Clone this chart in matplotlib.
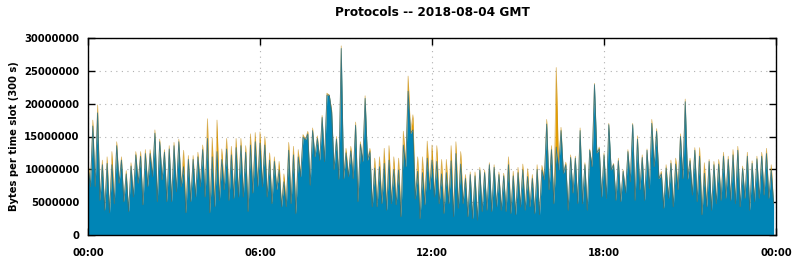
import numpy as np
import matplotlib.pyplot as plt

# values in millions of bytes per 5-minute slot; even slots are peaks, odd slots troughs
peak_total = [11.3, 17.5, 19.8, 11.4, 11.9, 12.7, 14.2, 11.9, 9.8, 11.0, 12.7, 12.7,
              13.0, 13.0, 16.0, 14.6, 13.0, 13.6, 14.1, 14.6, 12.9, 12.1, 12.1, 12.6,
              13.7, 17.7, 14.8, 17.5, 13.1, 14.7, 13.5, 14.7, 14.7, 13.6, 15.4, 15.6,
              15.7, 15.0, 12.5, 11.9, 11.2, 9.3, 14.1, 13.5, 13.0, 15.3, 15.8, 16.3,
              15.1, 18.2, 21.6, 19.0, 15.0, 28.8, 13.2, 13.5, 17.2, 14.2, 21.2, 13.2,
              11.7, 11.9, 13.2, 13.6, 11.9, 11.7, 15.8, 24.2, 18.3, 11.9, 11.9, 14.3,
              13.7, 13.6, 11.5, 11.5, 13.6, 14.2, 12.7, 9.2, 9.6, 9.6, 10.3, 9.9,
              11.0, 10.7, 9.6, 9.4, 11.9, 9.7, 10.3, 10.8, 10.1, 9.2, 10.7, 10.6,
              17.6, 13.6, 25.5, 16.4, 11.1, 12.2, 12.0, 16.3, 11.0, 13.1, 23.1, 13.4,
              12.5, 17.0, 10.9, 11.7, 9.9, 13.0, 17.0, 15.1, 12.2, 13.1, 17.6, 16.2,
              9.7, 10.7, 11.4, 11.7, 15.4, 20.7, 11.7, 13.3, 13.3, 11.0, 11.5, 11.2,
              11.5, 12.6, 12.0, 13.0, 13.5, 10.5, 12.6, 11.3, 12.0, 12.6, 13.2, 10.7]

peak_blue = [10.4, 16.6, 18.6, 10.7, 10.9, 10.7, 13.6, 11.4, 9.3, 10.5, 12.2, 12.0,
             12.4, 12.4, 15.5, 14.2, 12.6, 13.1, 13.6, 14.2, 10.4, 11.5, 11.5, 11.9,
             13.0, 14.7, 11.9, 12.7, 11.5, 13.1, 12.2, 13.3, 13.6, 12.6, 13.7, 14.2,
             14.0, 13.7, 11.4, 11.2, 9.9, 8.1, 12.9, 12.2, 11.9, 14.9, 15.4, 15.9,
             14.7, 17.9, 21.3, 18.7, 14.6, 28.4, 12.5, 12.8, 16.7, 13.8, 20.8, 12.7,
             10.2, 10.4, 10.9, 11.4, 10.0, 9.9, 13.7, 21.9, 16.0, 9.7, 9.5, 11.7,
             11.4, 11.2, 9.3, 9.5, 11.3, 12.4, 10.8, 8.6, 9.2, 9.0, 9.9, 9.5,
             10.7, 10.3, 9.2, 9.0, 10.7, 9.0, 9.5, 9.9, 8.9, 8.6, 10.0, 9.9,
             16.9, 13.0, 13.4, 15.9, 10.7, 11.8, 11.7, 15.9, 10.7, 12.9, 22.9, 13.1,
             12.2, 16.8, 10.7, 11.3, 9.7, 12.7, 16.8, 14.6, 11.8, 12.9, 17.0, 15.8,
             9.3, 10.2, 10.9, 10.8, 15.0, 20.3, 11.3, 12.9, 12.0, 9.4, 11.2, 10.7,
             10.8, 12.0, 11.5, 12.2, 12.9, 10.1, 12.0, 10.9, 11.6, 12.0, 12.4, 9.9]

trough_total = [7.4, 7.4, 5.3, 3.8, 3.4, 4.8, 7.9, 5.1, 3.6, 5.8, 7.9, 4.6,
                7.4, 8.9, 5.1, 8.4, 5.1, 5.1, 6.6, 7.4, 3.4, 5.1, 5.8, 7.4,
                5.8, 3.4, 4.3, 5.3, 6.9, 5.3, 5.6, 5.8, 5.8, 3.6, 6.4, 7.4,
                7.4, 5.8, 4.8, 6.9, 4.3, 4.3, 4.8, 3.3, 8.9, 14.5, 7.6, 11.9,
                11.4, 11.2, 21.3, 10.0, 8.5, 8.6, 8.9, 8.6, 5.1, 11.2, 11.4, 4.3,
                4.3, 4.8, 3.8, 4.8, 4.6, 2.8, 10.4, 15.5, 5.5, 2.5, 4.6, 6.9,
                5.8, 4.8, 3.3, 4.8, 2.8, 4.1, 4.8, 2.8, 2.5, 2.3, 3.6, 3.8,
                3.6, 4.3, 3.8, 3.6, 3.3, 3.1, 4.3, 3.8, 4.3, 3.3, 3.1, 8.4,
                6.9, 4.8, 9.9, 9.4, 3.8, 6.4, 4.8, 4.8, 3.8, 10.4, 12.5, 5.8,
                5.6, 9.9, 5.3, 5.1, 6.4, 8.1, 5.3, 6.9, 5.3, 7.1, 10.4, 8.6,
                4.1, 5.6, 4.3, 6.9, 8.6, 8.5, 6.1, 5.1, 3.1, 4.3, 3.8, 4.8,
                5.3, 5.6, 5.3, 4.8, 4.3, 5.6, 3.8, 5.1, 5.6, 6.1, 5.6, 4.8]

tick_hours = [0, 6, 12, 18, 24]
tick_labels = ['00:00', '06:00', '12:00', '18:00', '00:00']

n = 2 * len(peak_total)
total = np.empty(n)
blue = np.empty(n)
total[0::2] = peak_total
total[1::2] = trough_total
blue[0::2] = peak_blue
blue[1::2] = trough_total
total *= 1e6
blue *= 1e6
hours = np.arange(n) * 5 / 60.0

plt.rcParams['font.family'] = 'DejaVu Sans'
plt.rcParams['font.weight'] = 'bold'

fig = plt.figure(figsize=(7.94, 2.6), dpi=100)
ax = fig.add_axes([88 / 794, 25 / 260, 688 / 794, 197 / 260])

c_blue = '#0085b6'
c_orange = '#e69f00'
ax.fill_between(hours, 0, blue, color=c_blue, lw=0, zorder=2)
ax.fill_between(hours, blue, total, color=c_orange, lw=0, zorder=2)
ax.plot(hours, total, color='#c8921e', lw=0.5, alpha=0.7, zorder=3)
ax.plot(hours, blue, color='#1b6a88', lw=0.6, alpha=0.8, zorder=3)

ax.set_xlim(0, 24)
ax.set_ylim(0, 30e6)
ax.set_xticks(tick_hours)
ax.set_xticklabels(tick_labels)
ax.set_yticks(np.arange(0, 30e6 + 1, 5e6))
ax.set_yticklabels(['%d' % v for v in np.arange(0, 30e6 + 1, 5e6)])
ax.grid(True, color='#b0b0b0', linestyle=(0, (1, 4)), linewidth=0.8, zorder=1)
ax.set_axisbelow(True)
ax.tick_params(direction='in', length=5, width=1, labelsize=7.2, top=True, right=True, pad=6)
ax.tick_params(axis='x', pad=9)
for s in ax.spines.values():
    s.set_linewidth(1.0)
    s.set_zorder(5)

ax.set_ylabel('Bytes per time slot (300 s)', fontsize=7.2, fontweight='bold', labelpad=4)
ax.set_title('Protocols -- 2018-08-04 GMT', fontsize=8.7, fontweight='bold', pad=16)

fig.savefig('out.png', dpi=100)
